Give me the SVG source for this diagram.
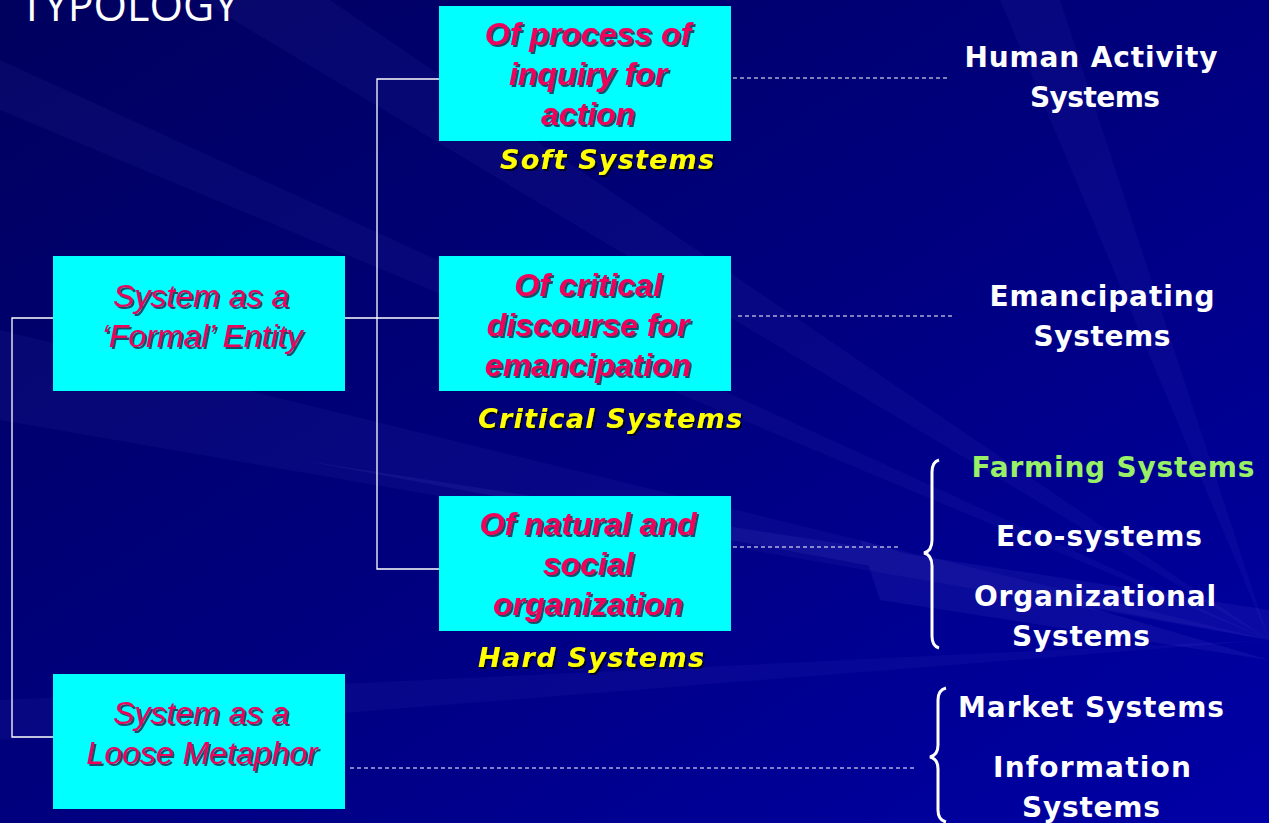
<svg xmlns="http://www.w3.org/2000/svg" width="1269" height="823" viewBox="0 0 1269 823">
<defs>
<linearGradient id="bg" x1="0" y1="0" x2="1" y2="1">
<stop offset="0" stop-color="#00005e"/>
<stop offset="0.5" stop-color="#00007e"/>
<stop offset="1" stop-color="#0000a6"/>
</linearGradient>
<filter id="sh" x="-10%" y="-20%" width="120%" height="150%">
<feDropShadow dx="2" dy="2" stdDeviation="0.4" flood-color="#222244" flood-opacity="0.8"/>
</filter>
<filter id="shy" x="-10%" y="-20%" width="120%" height="150%">
<feDropShadow dx="2" dy="2" stdDeviation="0.4" flood-color="#000000" flood-opacity="0.7"/>
</filter>
<style>
.box{fill:#00ffff}
.bt{font-family:"Liberation Sans",Arial,sans-serif;font-weight:bold;font-style:italic;font-size:32px;fill:#f0005a;text-anchor:middle;filter:url(#sh)}
.lt{font-family:"Liberation Sans",Arial,sans-serif;font-style:italic;font-size:32px;fill:#f0005a;text-anchor:middle;filter:url(#sh)}
.yl{font-family:"DejaVu Sans","Liberation Sans",sans-serif;font-weight:bold;font-style:italic;font-size:27px;fill:#ffff00;text-anchor:middle;filter:url(#shy)}
.rt{font-family:"DejaVu Sans","Noto Sans",sans-serif;font-weight:bold;font-size:28px;fill:#ffffff;text-anchor:middle}
.sl{stroke:#ffffff;stroke-width:1.3;fill:none}
.br{stroke:#ffffff;stroke-width:3;fill:none}
.dl{stroke:#ffffff;stroke-width:1;stroke-dasharray:4 3;fill:none}
</style>
</defs>
<rect width="1269" height="823" fill="url(#bg)"/>
<g opacity="0.05" fill="#8080ff">
<polygon points="1269,640 0,60 0,110"/>
<polygon points="1269,640 200,0 330,0"/>
<polygon points="1269,640 0,330 0,420"/>
<polygon points="1269,640 0,700 0,740"/>
<polygon points="1269,640 1000,0 1060,0"/>
</g>
<g opacity="0.08" fill="#9090ff">
<polygon points="1269,660 860,540 880,600"/>
<polygon points="1269,610 1269,640 300,460"/>
</g>
<text x="20" y="21" font-family="'Open Sans','Liberation Sans',sans-serif" font-size="43" fill="#ffffff">TYPOLOGY</text>
<g id="connectors">
<polyline class="sl" points="345,318 439,318"/>
<polyline class="sl" points="439,79 377,79 377,569 439,569"/>
<polyline class="sl" points="53,318 12,318 12,737 53,737"/>
<line class="dl" x1="733" y1="78" x2="950" y2="78"/>
<line class="dl" x1="738" y1="316" x2="955" y2="316"/>
<line class="dl" x1="733" y1="547" x2="900" y2="547"/>
<line class="dl" x1="350" y1="768" x2="916" y2="768"/>
<path class="br" d="M939,460 Q932,462 932,472 L932,540 Q932,551 924,553 Q932,555 932,566 L932,636 Q932,646 939,648"/>
<path class="br" d="M946,688 Q938,690 938,700 L938,745 Q938,755 930,757 Q938,759 938,769 L938,810 Q938,820 946,822"/>
</g>
<g id="box-formal">
<rect class="box" x="53" y="256" width="292" height="135"/>
<text class="lt" x="201" y="307">System as a</text>
<text class="lt" x="202" y="347">‘Formal’ Entity</text>
</g>
<g id="box-metaphor">
<rect class="box" x="53" y="674" width="292" height="135"/>
<text class="lt" x="201" y="724">System as a</text>
<text class="lt" x="202" y="764">Loose Metaphor</text>
</g>
<g id="box-inquiry">
<rect class="box" x="439" y="6" width="292" height="135"/>
<text class="bt" x="588" y="45">Of process of</text>
<text class="bt" x="588" y="85">inquiry for</text>
<text class="bt" x="588" y="125">action</text>
<text class="yl" x="607" y="169" textLength="214">Soft Systems</text>
</g>
<g id="box-critical">
<rect class="box" x="439" y="256" width="292" height="135"/>
<text class="bt" x="588" y="296">Of critical</text>
<text class="bt" x="588" y="336">discourse for</text>
<text class="bt" x="588" y="376">emancipation</text>
<text class="yl" x="610" y="428" textLength="264">Critical Systems</text>
</g>
<g id="box-natural">
<rect class="box" x="439" y="496" width="292" height="135"/>
<text class="bt" x="588" y="535">Of natural and</text>
<text class="bt" x="588" y="575">social</text>
<text class="bt" x="588" y="615">organization</text>
<text class="yl" x="591" y="667" textLength="226">Hard Systems</text>
</g>
<g id="right-labels">
<text class="rt" x="1091" y="67" textLength="253">Human Activity</text>
<text class="rt" x="1095" y="107" textLength="130">Systems</text>
<text class="rt" x="1102" y="306" textLength="225">Emancipating</text>
<text class="rt" x="1102" y="346" textLength="137">Systems</text>
<text class="rt" x="1113" y="477" textLength="283" style="fill:#99f066">Farming Systems</text>
<text class="rt" x="1099" y="546" textLength="206">Eco-systems</text>
<text class="rt" x="1095" y="606" textLength="242">Organizational</text>
<text class="rt" x="1081" y="646" textLength="138">Systems</text>
<text class="rt" x="1091" y="717" textLength="266">Market Systems</text>
<text class="rt" x="1092" y="777" textLength="198">Information</text>
<text class="rt" x="1091" y="817" textLength="138">Systems</text>
</g>
</svg>
